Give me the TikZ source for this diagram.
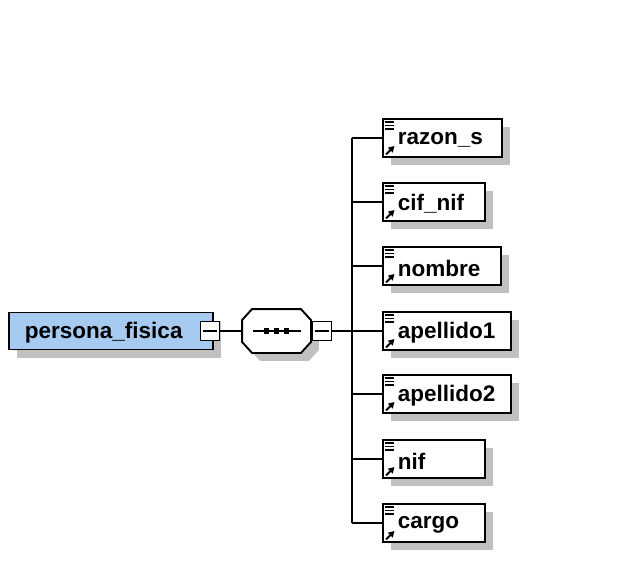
\documentclass[tikz,border=0pt]{standalone}
\usepackage{fontspec}
\setmainfont{Liberation Sans}
\usetikzlibrary{shadows,arrows.meta}
\definecolor{shadowgray}{RGB}{192,192,192}
\definecolor{elemblue}{RGB}{166,202,240}
\newcommand\octo[1]{([xshift=10pt]#1.north west) -- ([xshift=-10pt]#1.north east) -- ([yshift=-11pt]#1.north east)
  -- ([yshift=11pt]#1.south east) -- ([xshift=-10pt]#1.south east) -- ([xshift=10pt]#1.south west)
  -- ([yshift=11pt]#1.south west) -- ([yshift=-11pt]#1.north west) -- cycle}
\begin{document}
\begin{tikzpicture}[x=1pt,y=-1pt,line width=1.9pt,
  shd/.style={general shadow={fill=shadowgray,shadow xshift=8pt,shadow yshift=-8pt}},
  elem/.style={draw=black,fill=white,rectangle,inner sep=0pt,minimum height=38pt,anchor=west,shd},
  lbl/.style={font=\bfseries\fontsize{22.5}{26}\selectfont,inner sep=0pt,anchor=west},
  minusbox/.style={draw,fill=white,rectangle,inner sep=0pt,minimum size=19pt},
  conn/.style={line width=1.9pt},
  icon/.style={line width=1.2pt},
  ghost/.style={rectangle,inner sep=0pt,minimum width=67pt,minimum height=42pt}]
\useasboundingbox (0,0) rectangle (618,575);
\fill[white] (0,0) rectangle (618,575);

% root element
\node[elem,fill=elemblue,minimum width=204pt,minimum height=37pt] (pf) at (8,331) {};
\node[lbl] (pft) at (24,332.5) {persona\_fisica};
\node[minusbox] (m1) at (210,331) {};
\draw[icon] ([xshift=-7pt]m1.center) -- ([xshift=7pt]m1.center);

% sequence compositor (chamfered box)
\node[ghost] (seqsh) at (284.5,339) {};
\node[ghost] (seq) at (276.5,331) {};
\fill[shadowgray] \octo{seqsh};
\draw[fill=white] \octo{seq};
\draw[icon] ([xshift=-24pt]seq.center) -- ([xshift=24pt]seq.center);
\foreach \dx in {-10,0,10}
  \fill ([xshift=\dx pt]seq.center) ++(-2.8,-2.8) rectangle ++(5.6,5.6);
\node[minusbox] (m2) at (322,331) {};
\draw[icon] ([xshift=-7pt]m2.center) -- ([xshift=7pt]m2.center);

\draw[conn] (m1.east) -- (seq.west);
\draw[conn] (seq.east) -- (m2.west);

% trunk
\coordinate (tt) at (352,138);
\coordinate (tb) at (352,523);
\draw[conn] (tt) -- (tb);
\draw[conn] (m2.east) -- (m2.east -| tt);

% children
\foreach \n/\w/\t/\y in {c1/119/razon\_s/138, c2/102/cif\_nif/202, c3/118/nombre/266,
    c4/128/apellido1/331, c5/128/apellido2/394, c6/102/nif/459, c7/102/cargo/523}{
  \node[elem,minimum width=\w] (\n) at (382,\y) {};
  \node[lbl] (\n-t) at (397,\y+2) {\t};
  \foreach \k in {4,7.5,11}
    \draw[icon] ([shift={(2.5,\k)}]\n.north west) -- ++(9.5,0);
  \draw[line width=2pt,-{Triangle[length=6pt,width=6.5pt]}]
    ([shift={(4,-3.5)}]\n.south west) -- ([shift={(12.5,-12)}]\n.south west);
  \draw[conn] (\n.west -| tt) -- (\n.west);
}
\end{tikzpicture}
\end{document}
